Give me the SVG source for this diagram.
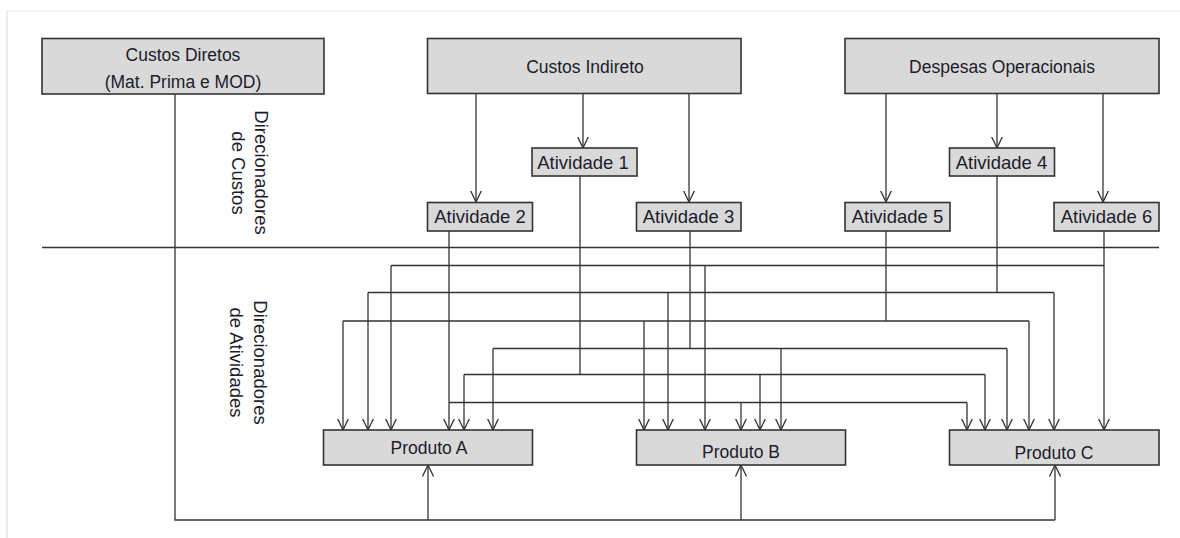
<svg xmlns="http://www.w3.org/2000/svg" width="1180" height="538" viewBox="0 0 1180 538">
<defs>
<style>
.box{fill:#d9d9d9;stroke:#333;stroke-width:1.6}
.t{font-family:"Liberation Sans",Arial,sans-serif;font-size:17.5px;fill:#1c1c2a;text-anchor:middle;dominant-baseline:central}
.ta{font-size:18.5px}
.v{font-family:"Liberation Sans",Arial,sans-serif;font-size:18.5px;fill:#1c1c2a;text-anchor:middle;dominant-baseline:central}
.ln{fill:none;stroke:#333;stroke-width:1.3}
.ar{fill:none;stroke:#333;stroke-width:1.3;marker-end:url(#arr)}
.frame{fill:none;stroke:#dde3ec;stroke-width:1.2}
</style>
<marker id="arr" viewBox="0 0 12 12" refX="11.5" refY="6" markerWidth="12" markerHeight="12" markerUnits="userSpaceOnUse" orient="auto">
<path d="M0,0.5 L11.5,6 L0,11.5" fill="none" stroke="#333" stroke-width="1.3"/>
</marker>
</defs>
<rect width="1180" height="538" fill="#fff"/>
<path class="frame" d="M7,538 V11 H1180"/>

<g id="connectors">
<!-- divider -->
<line class="ln" x1="42" y1="247.5" x2="1159" y2="247.5"/>
<!-- top arrows -->
<line class="ar" x1="476" y1="93" x2="476" y2="202"/>
<line class="ar" x1="583" y1="93" x2="583" y2="148"/>
<line class="ar" x1="689" y1="93" x2="689" y2="202"/>
<line class="ar" x1="886" y1="93" x2="886" y2="202"/>
<line class="ar" x1="997" y1="93" x2="997" y2="148"/>
<line class="ar" x1="1103" y1="93" x2="1103" y2="202"/>
<!-- Atividade 6 -->
<line class="ar" x1="1104" y1="231" x2="1104" y2="430"/>
<polyline class="ln" points="1104,265.5 391,265.5"/>
<line class="ar" x1="391" y1="265.5" x2="391" y2="430"/>
<line class="ar" x1="705" y1="265.5" x2="705" y2="430"/>
<!-- Atividade 4 -->
<polyline class="ln" points="997,176 997,292.5"/>
<line class="ln" x1="368" y1="292.5" x2="1054" y2="292.5"/>
<line class="ar" x1="368" y1="292.5" x2="368" y2="430"/>
<line class="ar" x1="668" y1="292.5" x2="668" y2="430"/>
<line class="ar" x1="1054" y1="292.5" x2="1054" y2="430"/>
<!-- Atividade 5 -->
<polyline class="ln" points="886,231 886,321"/>
<line class="ln" x1="343" y1="321" x2="1029" y2="321"/>
<line class="ar" x1="343" y1="321" x2="343" y2="430"/>
<line class="ar" x1="644" y1="321" x2="644" y2="430"/>
<line class="ar" x1="1029" y1="321" x2="1029" y2="430"/>
<!-- Atividade 3 -->
<polyline class="ln" points="690,231 690,348.5"/>
<line class="ln" x1="493" y1="348.5" x2="1007" y2="348.5"/>
<line class="ar" x1="493" y1="348.5" x2="493" y2="430"/>
<line class="ar" x1="781" y1="348.5" x2="781" y2="430"/>
<line class="ar" x1="1007" y1="348.5" x2="1007" y2="430"/>
<!-- Atividade 1 -->
<polyline class="ln" points="580,176 580,374.5"/>
<line class="ln" x1="464" y1="374.5" x2="985" y2="374.5"/>
<line class="ar" x1="464" y1="374.5" x2="464" y2="430"/>
<line class="ar" x1="760" y1="374.5" x2="760" y2="430"/>
<line class="ar" x1="985" y1="374.5" x2="985" y2="430"/>
<!-- Atividade 2 -->
<line class="ar" x1="449" y1="231" x2="449" y2="430"/>
<line class="ln" x1="449" y1="402.5" x2="967" y2="402.5"/>
<line class="ar" x1="741" y1="402.5" x2="741" y2="430"/>
<line class="ar" x1="967" y1="402.5" x2="967" y2="430"/>
<!-- Custos Diretos -->
<polyline class="ln" points="175,94 175,520 1055,520"/>
<line class="ar" x1="428" y1="520" x2="428" y2="465"/>
<line class="ar" x1="741" y1="520" x2="741" y2="465"/>
<line class="ar" x1="1055" y1="520" x2="1055" y2="465"/>
</g>

<g id="custos-diretos">
<rect class="box" x="42" y="38.5" width="282" height="55.5"/>
<text class="t" x="183" y="55">Custos Diretos</text>
<text class="t" x="183" y="82">(Mat. Prima e MOD)</text>
</g>
<g id="custos-indireto">
<rect class="box" x="427.5" y="38.5" width="313.5" height="55"/>
<text class="t" x="585" y="66.5">Custos Indireto</text>
</g>
<g id="despesas-operacionais">
<rect class="box" x="845" y="38.5" width="314" height="55"/>
<text class="t" x="1002" y="66.5">Despesas Operacionais</text>
</g>

<g id="atividade-1">
<rect class="box" x="532" y="148" width="105" height="28"/>
<text class="t ta" x="583" y="162">Atividade 1</text>
</g>
<g id="atividade-2">
<rect class="box" x="427.5" y="202.5" width="105" height="28.5"/>
<text class="t ta" x="480" y="216.5">Atividade 2</text>
</g>
<g id="atividade-3">
<rect class="box" x="636.5" y="202.5" width="104.5" height="28.5"/>
<text class="t ta" x="688.5" y="216.5">Atividade 3</text>
</g>
<g id="atividade-4">
<rect class="box" x="949.5" y="148" width="105" height="28"/>
<text class="t ta" x="1001.5" y="162">Atividade 4</text>
</g>
<g id="atividade-5">
<rect class="box" x="845" y="202.5" width="105" height="28.5"/>
<text class="t ta" x="897.5" y="216.5">Atividade 5</text>
</g>
<g id="atividade-6">
<rect class="box" x="1054" y="202.5" width="105" height="28.5"/>
<text class="t ta" x="1106.5" y="216.5">Atividade 6</text>
</g>

<g id="produto-a">
<rect class="box" x="323.5" y="430" width="209" height="35"/>
<text class="t" x="429" y="448">Produto A</text>
</g>
<g id="produto-b">
<rect class="box" x="636.5" y="430" width="209" height="35"/>
<text class="t" x="741" y="452">Produto B</text>
</g>
<g id="produto-c">
<rect class="box" x="949.5" y="430" width="209.5" height="35"/>
<text class="t" x="1054" y="453">Produto C</text>
</g>

<g id="label-direcionadores-custos">
<text class="v" transform="translate(261,172.5) rotate(90)">Direcionadores</text>
<text class="v" transform="translate(238.5,173) rotate(90)">de Custos</text>
</g>
<g id="label-direcionadores-atividades">
<text class="v" transform="translate(260.5,362.5) rotate(90)">Direcionadores</text>
<text class="v" transform="translate(236.5,362.5) rotate(90)">de Atividades</text>
</g>
</svg>
